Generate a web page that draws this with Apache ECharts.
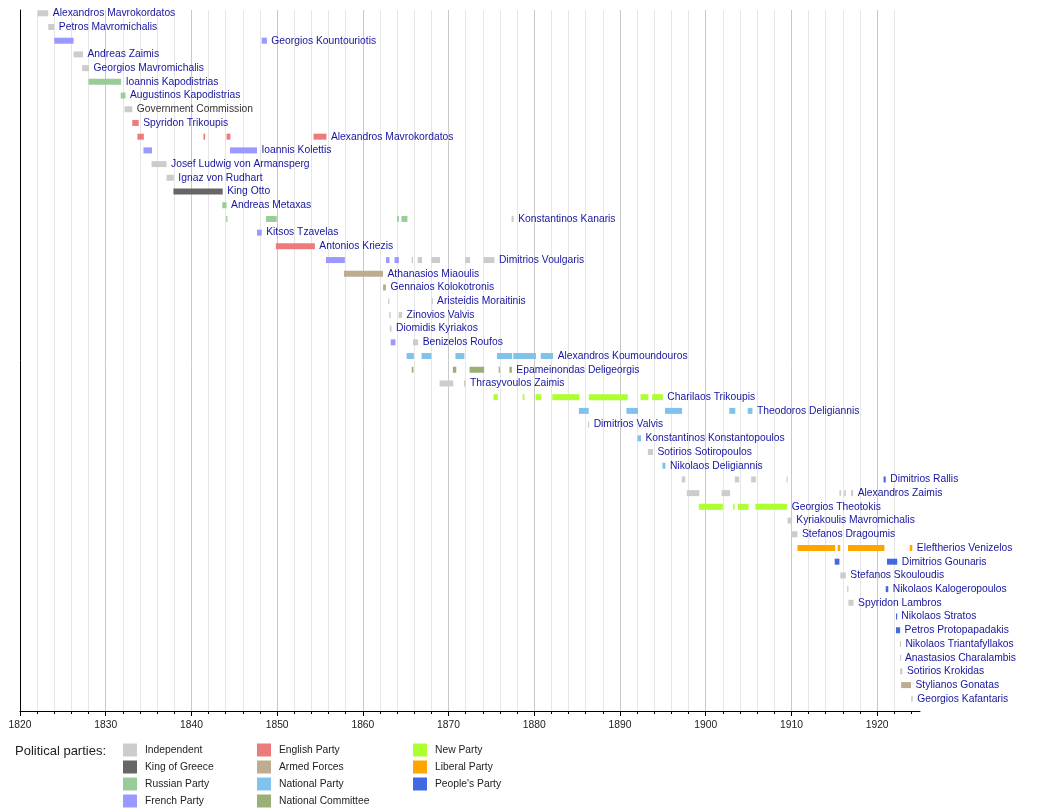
<!DOCTYPE html>
<html>
<head>
<meta charset="utf-8">
<script src="https://cdn.jsdelivr.net/npm/echarts@6/dist/echarts.min.js"></script>
<style>
  html, body { margin: 0; padding: 0; background: #fff; }
  #chart { width: 1050px; height: 810px; }
</style>
</head>
<body>
<div id="chart"></div>
<script>
// parties, in legend order
const IND = "Independent", KING = "King of Greece", RUS = "Russian Party", FRE = "French Party";
const ENG = "English Party", ARM = "Armed Forces", NAT = "National Party", NCOM = "National Committee";
const NEW = "New Party", LIB = "Liberal Party", PEO = "People's Party";

const parties = [IND, KING, RUS, FRE, ENG, ARM, NAT, NCOM, NEW, LIB, PEO];
const legendColumns = [
  [IND, KING, RUS, FRE],
  [ENG, ARM, NAT, NCOM],
  [NEW, LIB, PEO]
];

// one row per premier, top to bottom
const premiers = [
  "Alexandros Mavrokordatos", "Petros Mavromichalis", "Georgios Kountouriotis", "Andreas Zaimis",
  "Georgios Mavromichalis", "Ioannis Kapodistrias", "Augustinos Kapodistrias", "Government Commission",
  "Spyridon Trikoupis", "Alexandros Mavrokordatos", "Ioannis Kolettis", "Josef Ludwig von Armansperg",
  "Ignaz von Rudhart", "King Otto", "Andreas Metaxas", "Konstantinos Kanaris",
  "Kitsos Tzavelas", "Antonios Kriezis", "Dimitrios Voulgaris", "Athanasios Miaoulis",
  "Gennaios Kolokotronis", "Aristeidis Moraitinis", "Zinovios Valvis", "Diomidis Kyriakos",
  "Benizelos Roufos", "Alexandros Koumoundouros", "Epameinondas Deligeorgis", "Thrasyvoulos Zaimis",
  "Charilaos Trikoupis", "Theodoros Deligiannis", "Dimitrios Valvis", "Konstantinos Konstantopoulos",
  "Sotirios Sotiropoulos", "Nikolaos Deligiannis", "Dimitrios Rallis", "Alexandros Zaimis",
  "Georgios Theotokis", "Kyriakoulis Mavromichalis", "Stefanos Dragoumis", "Eleftherios Venizelos",
  "Dimitrios Gounaris", "Stefanos Skouloudis", "Nikolaos Kalogeropoulos", "Spyridon Lambros",
  "Nikolaos Stratos", "Petros Protopapadakis", "Nikolaos Triantafyllakos", "Anastasios Charalambis",
  "Sotirios Krokidas", "Stylianos Gonatas", "Georgios Kafantaris"
];
const plainLabels = ["Government Commission"];

// [row, party, from, to]
const terms = [
  [0, IND, 1822.05, 1823.3],
  [1, IND, 1823.3, 1824.0],
  [2, FRE, 1824.0, 1826.25], [2, FRE, 1848.2, 1848.8],
  [3, IND, 1826.25, 1827.35],
  [4, IND, 1827.25, 1828.05],
  [5, RUS, 1828.0, 1831.8],
  [6, RUS, 1831.75, 1832.3],
  [7, IND, 1832.2, 1833.1],
  [8, ENG, 1833.1, 1833.85],
  [9, ENG, 1833.7, 1834.45], [9, ENG, 1841.4, 1841.6], [9, ENG, 1844.1, 1844.55], [9, ENG, 1854.25, 1855.75],
  [10, FRE, 1834.4, 1835.4], [10, FRE, 1844.5, 1847.65],
  [11, IND, 1835.35, 1837.1],
  [12, IND, 1837.1, 1837.95],
  [13, KING, 1837.9, 1843.65],
  [14, RUS, 1843.6, 1844.1],
  [15, RUS, 1844.05, 1844.2], [15, RUS, 1848.7, 1849.95], [15, RUS, 1864.0, 1864.2], [15, RUS, 1864.5, 1865.2],
  [15, IND, 1877.35, 1877.6],
  [16, FRE, 1847.65, 1848.2],
  [17, ENG, 1849.85, 1854.4],
  [18, FRE, 1855.7, 1857.9], [18, FRE, 1862.7, 1863.1], [18, FRE, 1863.7, 1864.2],
  [18, IND, 1865.7, 1865.85], [18, IND, 1866.4, 1866.9], [18, IND, 1868.0, 1869.0],
  [18, IND, 1871.95, 1872.5], [18, IND, 1874.1, 1875.35],
  [19, ARM, 1857.8, 1862.35],
  [20, ARM, 1862.35, 1862.7],
  [21, IND, 1862.95, 1863.08], [21, IND, 1868.03, 1868.13],
  [22, IND, 1863.08, 1863.25], [22, IND, 1864.17, 1864.58],
  [23, IND, 1863.15, 1863.35],
  [24, FRE, 1863.25, 1863.8], [24, IND, 1865.85, 1866.45],
  [25, NAT, 1865.1, 1865.95], [25, NAT, 1866.85, 1868.0], [25, NAT, 1870.8, 1871.85],
  [25, NAT, 1875.65, 1877.42], [25, NAT, 1877.55, 1880.2], [25, NAT, 1880.75, 1882.2],
  [26, NCOM, 1865.7, 1865.9], [26, NCOM, 1870.5, 1870.9], [26, NCOM, 1872.45, 1874.15],
  [26, NCOM, 1875.85, 1875.98], [26, NCOM, 1877.1, 1877.38],
  [27, IND, 1868.95, 1870.55], [27, IND, 1871.8, 1871.98],
  [28, NEW, 1875.25, 1875.75], [28, NEW, 1878.65, 1878.85], [28, NEW, 1880.15, 1880.8],
  [28, NEW, 1882.1, 1885.25], [28, NEW, 1886.35, 1890.9], [28, NEW, 1892.4, 1893.3], [28, NEW, 1893.75, 1895.0],
  [29, NAT, 1885.2, 1886.35], [29, NAT, 1890.75, 1892.1], [29, NAT, 1895.25, 1897.25],
  [29, NAT, 1902.75, 1903.45], [29, NAT, 1904.9, 1905.45],
  [30, IND, 1886.25, 1886.4],
  [31, NAT, 1892.05, 1892.45],
  [32, IND, 1893.25, 1893.85],
  [33, NAT, 1894.95, 1895.3],
  [34, IND, 1897.2, 1897.62], [34, IND, 1903.4, 1903.9], [34, IND, 1905.3, 1905.85], [34, IND, 1909.42, 1909.55],
  [34, PEO, 1920.75, 1921.0],
  [35, IND, 1897.8, 1899.25], [35, IND, 1901.85, 1902.85], [35, IND, 1915.6, 1915.8],
  [35, IND, 1916.15, 1916.35], [35, IND, 1916.95, 1917.2],
  [36, NEW, 1899.2, 1902.0], [36, NEW, 1903.2, 1903.37], [36, NEW, 1903.75, 1905.0], [36, NEW, 1905.8, 1909.5],
  [37, IND, 1909.55, 1910.05],
  [38, IND, 1909.95, 1910.7],
  [39, LIB, 1910.7, 1915.1], [39, LIB, 1915.4, 1915.7], [39, LIB, 1916.6, 1920.85], [39, LIB, 1923.8, 1924.1],
  [40, PEO, 1915.05, 1915.6], [40, PEO, 1921.15, 1922.35],
  [41, IND, 1915.7, 1916.35],
  [42, IND, 1916.5, 1916.65], [42, PEO, 1921.0, 1921.3],
  [43, IND, 1916.65, 1917.25],
  [44, PEO, 1922.2, 1922.3],
  [45, PEO, 1922.2, 1922.68],
  [46, IND, 1922.65, 1922.77],
  [47, IND, 1922.67, 1922.72],
  [48, IND, 1922.67, 1922.95],
  [49, ARM, 1922.8, 1923.95],
  [50, IND, 1923.97, 1924.15]
];

const decadeTicks = [1820, 1830, 1840, 1850, 1860, 1870, 1880, 1890, 1900, 1910, 1920];
// minor ticks every second year, 1820..1924
const yearTicks = [];
for (let y = 1820; y <= 1924; y += 2) yearTicks.push(y);

// styles
const partyColors = {
  [IND]: "#cccccc", [KING]: "#666666", [RUS]: "#99cc99", [FRE]: "#9999ff",
  [ENG]: "#ee7b7b", [ARM]: "#bdac8f", [NAT]: "#80c2ec", [NCOM]: "#9aae78",
  [NEW]: "#adff2f", [LIB]: "#ffa500", [PEO]: "#4169e1"
};
const FONT = "Liberation Sans, Arial, sans-serif";
const TXT = 10.3;
const box = { left: 20, right: 130, top: 10, bottom: 99 };

function renderBar(params, api) {
  const a = api.coord([api.value(0), api.value(2)]);
  const b = api.coord([api.value(1), api.value(2)]);
  const h = 6;
  return {
    type: "rect",
    shape: { x: a[0], y: a[1] - h / 2, width: Math.max(b[0] - a[0], 1.2), height: h },
    style: { fill: api.visual("color") }
  };
}

// label goes right of the person's last bar
const lastEnd = premiers.map((_, i) =>
  Math.max.apply(null, terms.filter(t => t[0] === i).map(t => t[3])));

function renderLabel(params, api) {
  const p = api.coord([api.value(0), api.value(1)]);
  const name = premiers[params.dataIndex];
  return {
    type: "text",
    x: p[0] + 4.5,
    y: p[1],
    style: {
      text: name,
      fill: plainLabels.indexOf(name) >= 0 ? "#333333" : "#1515a0",
      font: TXT + "px " + FONT,
      align: "left",
      verticalAlign: "middle"
    }
  };
}

const series = parties.map(p => ({
  type: "custom",
  name: p,
  renderItem: renderBar,
  itemStyle: { color: partyColors[p] },
  encode: { x: [0, 1], y: 2 },
  data: terms.filter(t => t[1] === p).map(t => [t[2], t[3], t[0]]),
  silent: true
}));
series.push({
  type: "custom",
  name: "labels",
  renderItem: renderLabel,
  encode: { x: 0, y: 1 },
  data: lastEnd.map((x, i) => [x, i]),
  silent: true
});

const minorColor = "#e6e6e6", majorColor = "#c9c9c9";

const option = {
  animation: false,
  textStyle: { fontFamily: FONT },
  grid: [Object.assign({}, box), Object.assign({}, box)],
  title: {
    text: "Political parties:",
    left: 15, top: 745, padding: 0,
    textStyle: { fontSize: 13, fontWeight: "normal", color: "#222", fontFamily: FONT }
  },
  legend: legendColumns.map((col, k) => ({
    data: col,
    orient: "vertical",
    left: [123, 257, 413][k],
    top: 743.5,
    height: 66,
    padding: 0,
    icon: "rect",
    itemWidth: 14,
    itemHeight: 13,
    itemGap: 4,
    selectedMode: false,
    textStyle: { fontSize: TXT, color: "#222", fontFamily: FONT, padding: [0, 0, 0, 3] }
  })),
  xAxis: [
    {
      type: "value",
      min: 1820, max: 1925, interval: 2,
      position: "bottom",
      axisLine: { onZero: false, lineStyle: { color: "#000", width: 1 } },
      axisTick: { length: 3, customValues: yearTicks, lineStyle: { color: "#000" } },
      axisLabel: {
        margin: 9, fontSize: TXT, color: "#222", fontFamily: FONT,
        customValues: decadeTicks,
        formatter: v => String(v)
      },
      splitLine: {
        show: true, showMaxLine: false,
        lineStyle: { color: [majorColor, minorColor, minorColor, minorColor, minorColor], width: 1 }
      }
    },
    {
      // longer ticks on the decades
      gridIndex: 1,
      type: "value",
      min: 1820, max: 1925,
      position: "bottom",
      axisLine: { show: false, onZero: false },
      axisTick: { show: true, length: 5, customValues: decadeTicks, lineStyle: { color: "#000" } },
      axisLabel: { show: false },
      splitLine: { show: false }
    }
  ],
  yAxis: [
    {
      type: "value",
      inverse: true,
      min: -0.24, max: 50.89,
      axisLine: { show: true, onZero: false, lineStyle: { color: "#000" } },
      axisTick: { show: false },
      axisLabel: { show: false },
      splitLine: { show: false }
    },
    {
      gridIndex: 1,
      type: "value",
      show: false,
      min: 0, max: 1
    }
  ],
  series: series
};

const chart = echarts.init(document.getElementById("chart"));
chart.setOption(option);
</script>
</body>
</html>
